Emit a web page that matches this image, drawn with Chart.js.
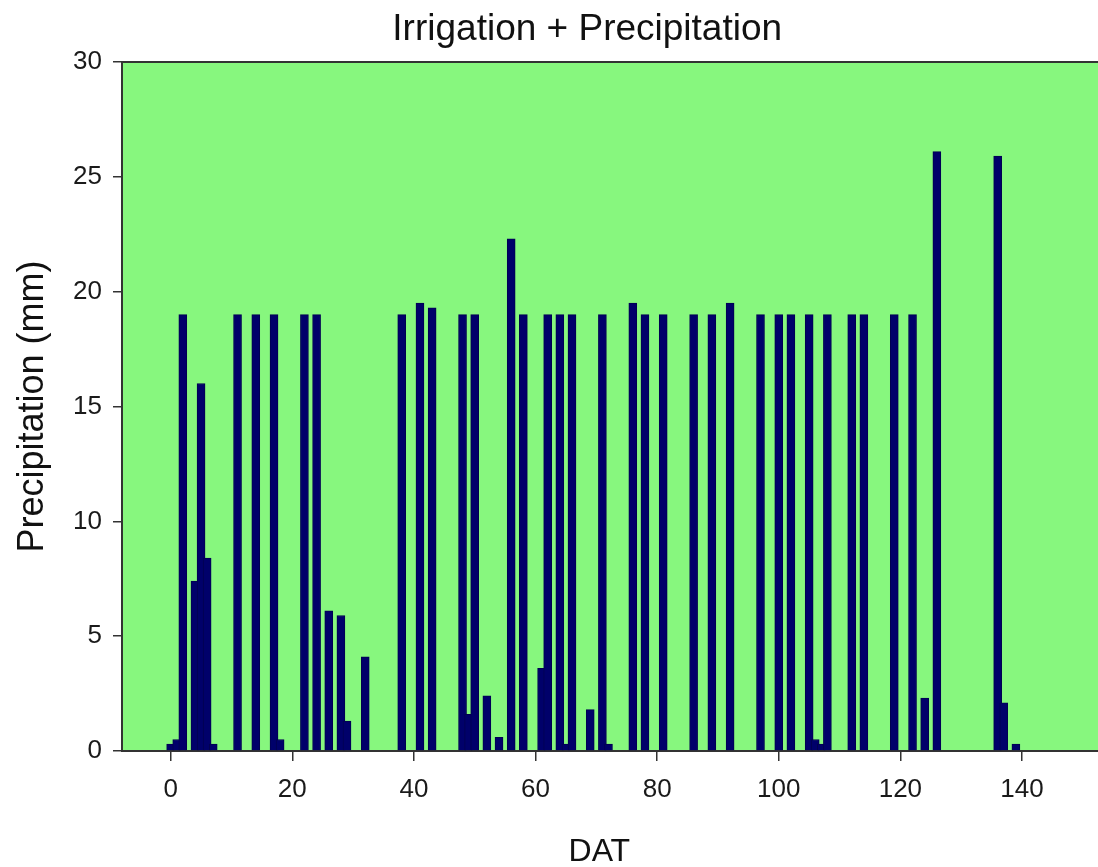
<!DOCTYPE html>
<html>
<head>
<meta charset="utf-8">
<title>Irrigation + Precipitation</title>
<script src="https://cdn.jsdelivr.net/npm/chart.js@4.4.1/dist/chart.umd.min.js"></script>
<style>
  html, body { margin: 0; padding: 0; background: #fff; }
  #wrap { width: 1098px; height: 867px; position: relative; }
</style>
</head>
<body>
<div id="wrap"><canvas id="chart"></canvas></div>
<script>
  // days after transplanting (DAT) with irrigation + rain events
  const days = [
    0, 1, 2, 4, 5, 6, 7, 11, 14, 17, 18, 22, 24, 26, 28, 29, 32,
    38, 41, 43, 48, 49, 50, 52, 54, 56, 58, 61, 62, 64, 65, 66, 69,
    71, 72, 76, 78, 81, 86, 89, 92, 97, 100, 102, 105, 106, 107, 108,
    112, 114, 119, 122, 124, 126, 136, 137, 139
  ];
  // mm per day
  const amounts = [
    0.3, 0.5, 19, 7.4, 16, 8.4, 0.3, 19, 19, 19, 0.5, 19, 19, 6.1, 5.9, 1.3, 4.1,
    19, 19.5, 19.3, 19, 1.6, 19, 2.4, 0.6, 22.3, 19, 3.6, 19, 19, 0.3, 19, 1.8,
    19, 0.3, 19.5, 19, 19, 19, 19, 19.5, 19, 19, 19, 19, 0.5, 0.3, 19,
    19, 19, 19, 19, 2.3, 26.1, 25.9, 2.1, 0.3
  ];
  const xTicks = [0, 20, 40, 60, 80, 100, 120, 140];
  const yTicks = [0, 5, 10, 15, 20, 25, 30];

  const TITLE = "Irrigation + Precipitation";
  const X_TITLE = "DAT";
  const Y_TITLE = "Precipitation (mm)";

  const FONT = '"Liberation Sans", Arial, Helvetica, sans-serif';
  const PLOT_BG = "#87f77e";
  const BAR_FILL = "#00006a";
  const AXIS = "#333333";

  Chart.defaults.font.family = FONT;
  Chart.defaults.color = "#1a1a1a";

  // green plot area, top frame line, and the two horizontal titles
  const plotFrame = {
    id: "plotFrame",
    beforeDraw(chart) {
      const { ctx, chartArea: a } = chart;
      ctx.save();
      ctx.fillStyle = PLOT_BG;
      ctx.fillRect(a.left, a.top, a.right - a.left, a.bottom - a.top);
      ctx.restore();
    },
    afterDraw(chart) {
      const { ctx, chartArea: a, scales } = chart;
      ctx.save();
      ctx.strokeStyle = AXIS;
      ctx.lineWidth = 2;
      ctx.beginPath();
      ctx.moveTo(a.left, a.top);
      ctx.lineTo(a.right, a.top);
      ctx.stroke();

      ctx.fillStyle = "#111";
      ctx.textAlign = "center";
      ctx.textBaseline = "alphabetic";
      ctx.font = `37px ${FONT}`;
      ctx.fillText(TITLE, scales.x.getPixelForValue(68.5), 40);
      ctx.font = `32px ${FONT}`;
      ctx.fillText(X_TITLE, scales.x.getPixelForValue(70.5), 861);
      ctx.restore();
    }
  };

  const points = days.map((d, i) => ({ x: d, y: amounts[i] }));

  new Chart(document.getElementById("chart"), {
    type: "bar",
    data: {
      datasets: [{
        label: TITLE,
        data: points,
        backgroundColor: BAR_FILL,
        borderColor: "#000050",
        borderWidth: 1,
        borderSkipped: "bottom",
        barThickness: 8
      }]
    },
    options: {
      responsive: true,
      maintainAspectRatio: false,
      animation: false,
      layout: { padding: { top: 62, right: 0, bottom: 0, left: 0 } },
      plugins: {
        legend: { display: false },
        tooltip: { enabled: false },
        title: { display: false }
      },
      scales: {
        x: {
          type: "linear",
          min: -8,
          max: 152.5,
          offset: false,
          afterBuildTicks(scale) { scale.ticks = xTicks.map(v => ({ value: v })); },
          afterFit(scale) { scale.height = 116; },
          ticks: { font: { size: 26 }, padding: 13, maxRotation: 0, color: "#1a1a1a" },
          grid: { display: true, drawOnChartArea: false, offset: false, tickLength: 10, color: AXIS, lineWidth: 1.5 },
          border: { display: true, color: AXIS, width: 2 }
        },
        y: {
          min: 0,
          max: 30,
          afterBuildTicks(scale) { scale.ticks = yTicks.map(v => ({ value: v })); },
          afterFit(scale) { scale.width = 122; },
          ticks: { font: { size: 26 }, padding: 11, color: "#1a1a1a" },
          grid: { display: true, drawOnChartArea: false, tickLength: 9, color: AXIS, lineWidth: 1.5 },
          border: { display: true, color: AXIS, width: 2 },
          title: { display: true, text: Y_TITLE, font: { size: 36 }, color: "#111", padding: { top: 11, bottom: 0 } }
        }
      }
    },
    plugins: [plotFrame]
  });
</script>
</body>
</html>
